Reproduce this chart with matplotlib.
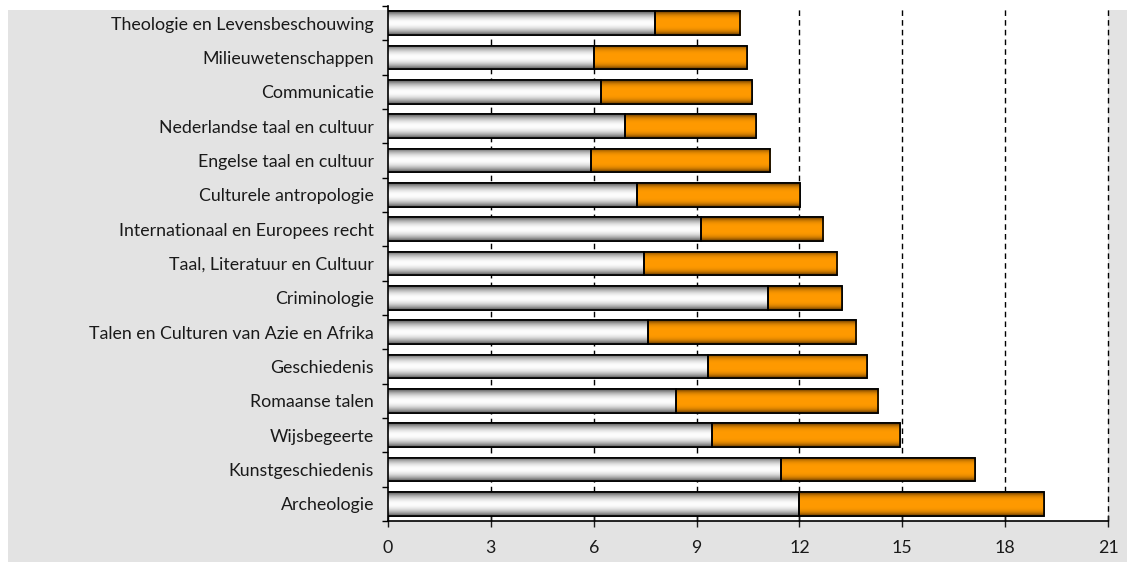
import numpy as np
import matplotlib
matplotlib.use("Agg")
import matplotlib.pyplot as plt
from matplotlib.patches import Rectangle

# Study programmes (top to bottom as displayed)
programmes = [
    "Theologie en Levensbeschouwing",
    "Milieuwetenschappen",
    "Communicatie",
    "Nederlandse taal en cultuur",
    "Engelse taal en cultuur",
    "Culturele antropologie",
    "Internationaal en Europees recht",
    "Taal, Literatuur en Cultuur",
    "Criminologie",
    "Talen en Culturen van Azie en Afrika",
    "Geschiedenis",
    "Romaanse talen",
    "Wijsbegeerte",
    "Kunstgeschiedenis",
    "Archeologie",
]
# First (grey) segment
part_a = [7.78, 6.01, 6.22, 6.91, 5.91, 7.26, 9.12, 7.46, 11.09, 7.57,
          9.34, 8.39, 9.44, 11.46, 11.98]
# Second (orange) segment
part_b = [2.49, 4.46, 4.40, 3.82, 5.24, 4.75, 3.57, 5.65, 2.14, 6.07,
          4.62, 5.91, 5.48, 5.65, 7.14]
x_ticks = [0, 3, 6, 9, 12, 15, 18, 21]

W, H = 1127, 562
fig = plt.figure(figsize=(W / 100, H / 100), dpi=100, facecolor="white")
fig.patches.append(Rectangle((8 / W, 0), 1 - 8 / W, (H - 10) / H,
                             transform=fig.transFigure, facecolor="#e3e3e3",
                             edgecolor="none", zorder=-10))

ax = fig.add_axes([388 / W, (H - 521) / H, (1108 - 388) / W, (521 - 6) / H])
ax.set_facecolor("white")

n = len(programmes)
y = np.arange(n)
bar_h = 0.68


def cyl_gradient(edge, mid, power):
    t = np.linspace(0, 1, 64)
    w = 1 - np.abs(2 * t - 1) ** power
    edge = np.array(matplotlib.colors.to_rgb(edge))
    mid = np.array(matplotlib.colors.to_rgb(mid))
    img = edge[None, :] * (1 - w[:, None]) + mid[None, :] * w[:, None]
    return img[:, None, :]


grey_img = cyl_gradient("#555555", "#fdfdfd", 2.0)
orange_img = cyl_gradient("#5a3200", "#ff9a00", 3.5)

bars_a = ax.barh(y, part_a, height=bar_h, color="#dddddd",
                 edgecolor="black", linewidth=1.2, zorder=3)
bars_b = ax.barh(y, part_b, left=part_a, height=bar_h, color="#ff9900",
                 edgecolor="black", linewidth=1.2, zorder=3)

for bars, img in ((bars_a, grey_img), (bars_b, orange_img)):
    for b in bars:
        x0, y0 = b.get_x(), b.get_y()
        w, h = b.get_width(), b.get_height()
        im = ax.imshow(img, extent=(x0, x0 + w, y0 + h, y0), aspect="auto",
                       interpolation="bilinear", zorder=3.5)
        im.set_clip_path(b)
        # outline on top of the gradient
        ax.add_patch(Rectangle((x0, y0), w, h, facecolor="none",
                               edgecolor="black", linewidth=1.2, zorder=4))

for xv in x_ticks[1:]:
    ax.axvline(xv, color="black", linestyle=(0, (4, 3)), linewidth=1.0,
               zorder=1, clip_on=False)

ax.set_xlim(0, 21)
ax.set_ylim(n - 0.5, -0.5)
ax.set_xticks(x_ticks)
ax.set_yticks(y)
ax.set_yticklabels(programmes)
ax.set_yticks(np.arange(n + 1) - 0.5, minor=True)

for s in ("top", "right"):
    ax.spines[s].set_visible(False)
for s in ("left", "bottom"):
    ax.spines[s].set_color("black")
    ax.spines[s].set_linewidth(1.2)

font = "Lato"
ax.tick_params(axis="x", direction="inout", length=8, width=1.0,
               labelsize=12.8, pad=10, colors="#1a1a1a")
ax.tick_params(axis="y", which="major", length=0, labelsize=12.8, pad=10,
               colors="#1a1a1a")
ax.tick_params(axis="y", which="minor", length=4, width=1.0, direction="out")
for lab in ax.get_xticklabels() + ax.get_yticklabels():
    lab.set_family(font)

fig.savefig("out.png", dpi=100, facecolor=fig.get_facecolor())
